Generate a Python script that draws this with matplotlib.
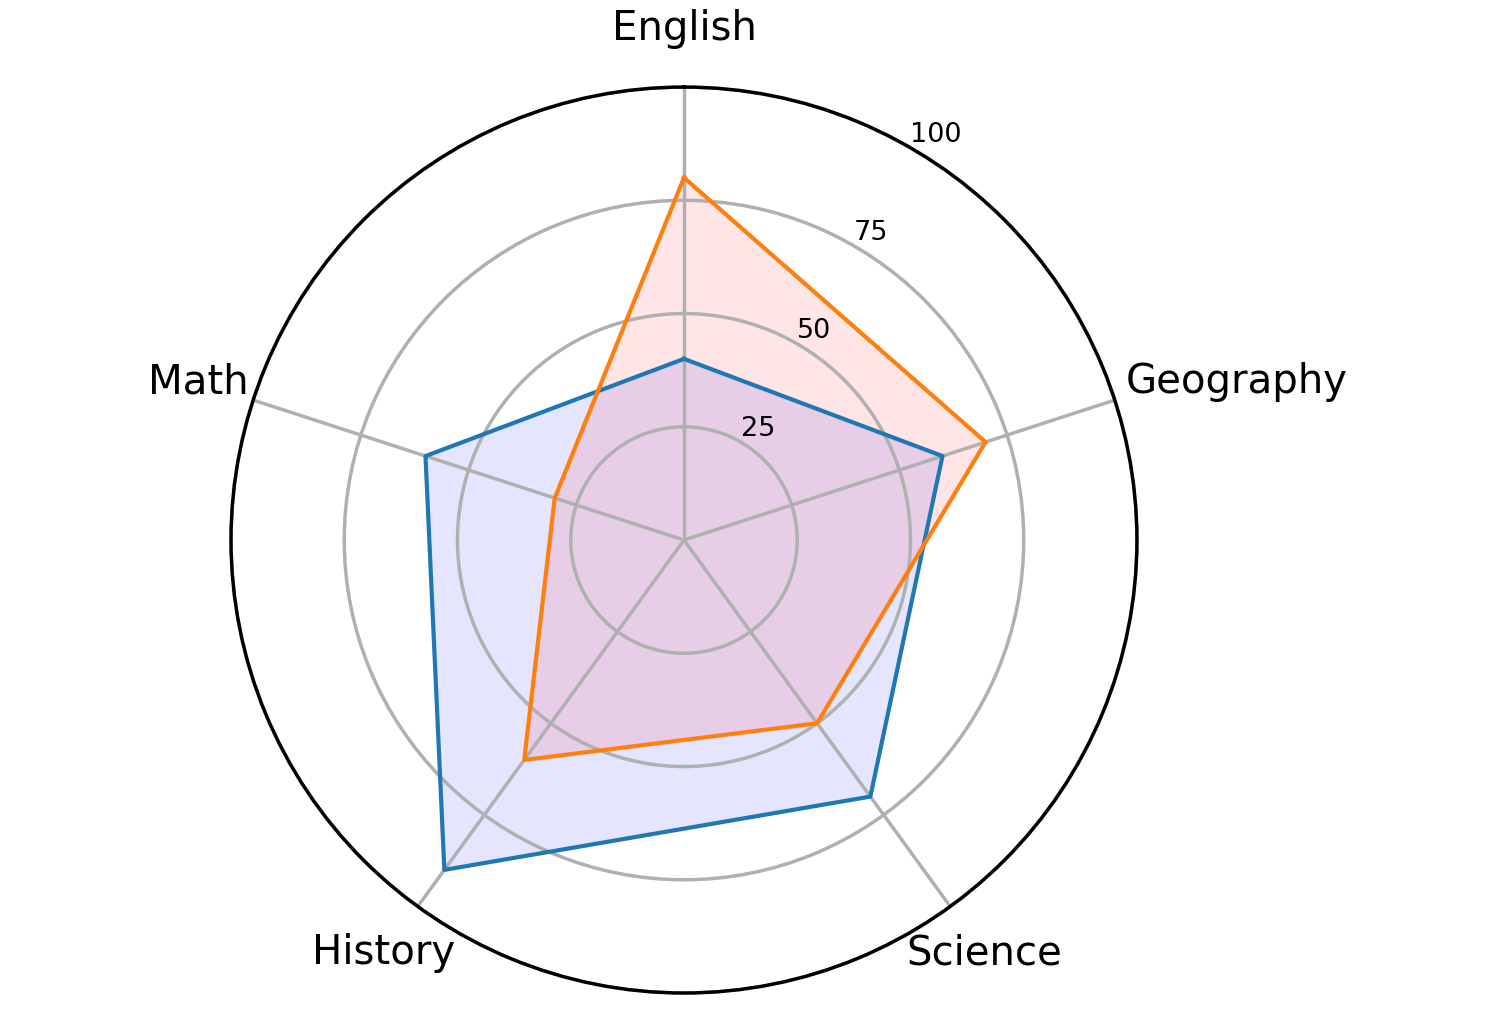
import numpy as np
import matplotlib.pyplot as plt

categories = ['English', 'Geography', 'Science', 'History', 'Math']
series_a = [40, 60, 70, 90, 60]
series_b = [80, 70, 50, 60, 30]
r_ticks = [25, 50, 75, 100]

n = len(categories)
angles = np.linspace(0, 2 * np.pi, n, endpoint=False).tolist()
angles_closed = angles + angles[:1]

fig = plt.figure(figsize=(14.97, 10.10), dpi=100)
ax = fig.add_axes([0.1543, 0.0168, 0.6052, 0.8970], polar=True)
ax.set_theta_offset(np.pi / 2)
ax.set_theta_direction(-1)

a = series_a + series_a[:1]
b = series_b + series_b[:1]
ax.fill(angles_closed, a, color='blue', alpha=0.1)
ax.plot(angles_closed, a, color='#1f77b4', linewidth=3)
ax.fill(angles_closed, b, color='red', alpha=0.1)
ax.plot(angles_closed, b, color='#ff7f0e', linewidth=3)

ax.set_ylim(0, 100)
ax.set_yticks(r_ticks)
ax.set_yticklabels([str(t) for t in r_ticks], fontsize=19.5)
ax.set_rlabel_position(30)
ax.set_xticks(angles)
ax.set_xticklabels([])
ax.grid(color='#b0b0b0', linewidth=2.5)
ax.spines['polar'].set_linewidth(2.5)

# category labels, pushed out from the rim (Geography sits a bit further right)
for name, ang in zip(categories, angles):
    dx = 58 * np.sin(ang)
    dy = 58 * np.cos(ang)
    if name == 'Geography':
        dx += 67
    ax.annotate(name, xy=(ang, 100), xytext=(dx, dy), textcoords='offset pixels',
                ha='center', va='center', fontsize=29, annotation_clip=False)

fig.savefig('out.png', dpi=100)
